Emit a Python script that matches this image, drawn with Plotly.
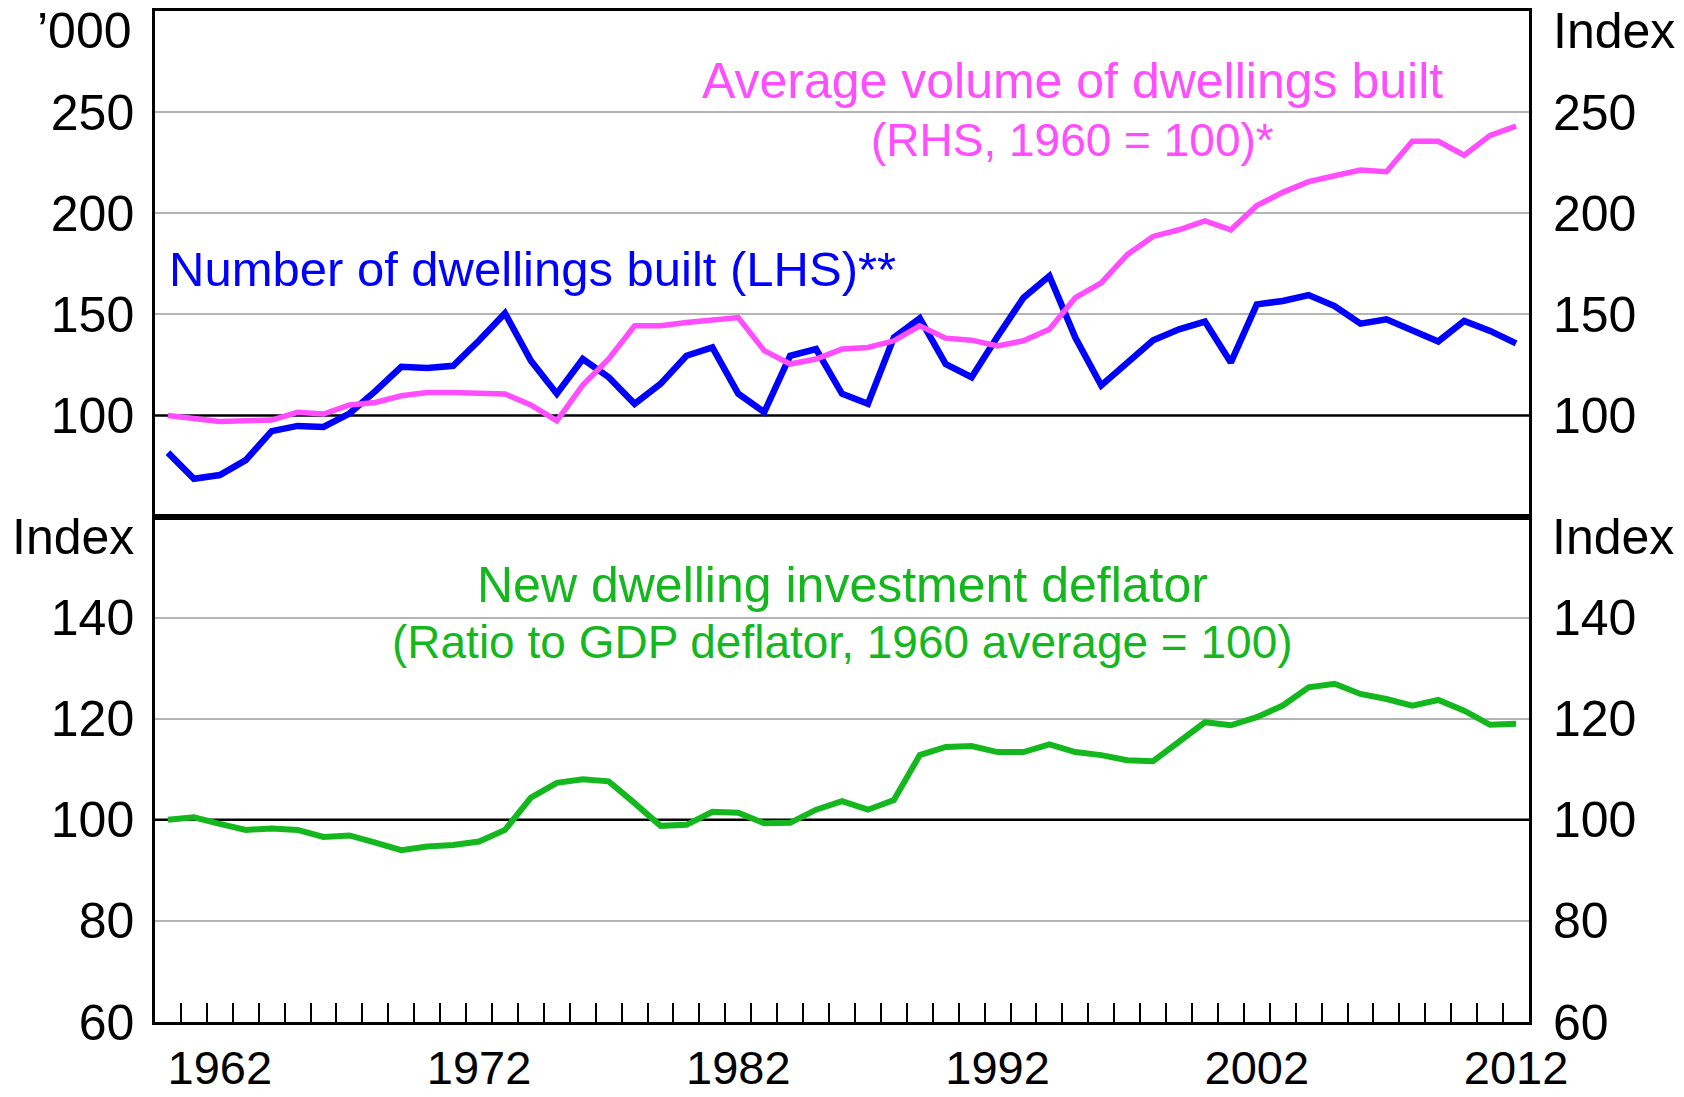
import plotly.graph_objects as go

years = list(range(1960, 2013))

# Number of dwellings built ('000, LHS)
dwellings_built = [81.6, 68.7, 70.5, 77.9, 92.2, 94.8, 94.3, 100.9, 112.0, 124.0,
                   123.4, 124.5, 137.0, 150.5, 127.0, 110.7, 127.9, 118.9, 105.7, 115.6,
                   129.5, 133.6, 110.7, 101.6, 129.5, 132.8, 110.7, 105.7, 138.5, 148.0,
                   125.4, 118.9, 139.0, 158.2, 168.9, 138.5, 114.8, 126.2, 137.2, 142.6,
                   146.4, 126.2, 154.9, 156.6, 159.5, 154.1, 145.4, 147.5, 141.8, 136.6,
                   146.7, 141.8, 135.6]

# Average volume of dwellings built (RHS, 1960 = 100)
avg_volume = [100.0, 98.7, 97.0, 97.4, 97.7, 101.5, 100.7, 105.2, 106.4, 109.7,
              111.3, 111.3, 111.0, 110.6, 105.2, 97.3, 115.0, 127.9, 144.3, 144.3,
              145.9, 147.0, 148.4, 132.0, 125.4, 127.9, 132.8, 133.6, 136.9, 144.3,
              138.2, 137.2, 134.4, 136.9, 142.6, 158.2, 165.6, 179.5, 188.5, 191.8,
              196.2, 191.8, 203.8, 210.3, 215.6, 218.5, 221.3, 220.5, 235.6, 235.6,
              228.7, 238.5, 243.1]

# New dwelling investment deflator (ratio to GDP deflator, 1960 average = 100)
deflator_ratio = [100.0, 100.5, 99.2, 98.0, 98.3, 98.0, 96.6, 96.9, 95.5, 94.0,
                  94.7, 95.0, 95.7, 98.0, 104.4, 107.3, 108.0, 107.6, 103.3, 98.8,
                  99.0, 101.6, 101.4, 99.3, 99.4, 102.0, 103.7, 102.0, 103.9, 112.8,
                  114.4, 114.6, 113.4, 113.4, 114.9, 113.4, 112.8, 111.8, 111.6, 115.4,
                  119.3, 118.7, 120.3, 122.6, 126.2, 126.9, 124.9, 123.9, 122.6, 123.7,
                  121.6, 118.8, 119.0]

year_labels = [1962, 1972, 1982, 1992, 2002, 2012]
top_ticks = [100, 150, 200, 250]
top_grid = [150, 200, 250]
top_range = [50, 300]
bottom_ticks = [60, 80, 100, 120, 140]
bottom_grid = [80, 120, 140]
bottom_range = [60, 160]
ref_level = 100

BLUE = "#0000FF"
PINK = "#FF4DFF"
GREEN = "#14B81E"
GRID = "#B4B4B4"
FONT = "Liberation Sans, Arial, sans-serif"
FS = 50
FS2 = 46

xr = [years[0] - 0.5, years[-1] + 0.5]
boundaries = [y + 0.5 for y in years[:-1]]

fig = go.Figure()
fig.add_trace(go.Scatter(x=years, y=dwellings_built, mode="lines",
                         line=dict(color=BLUE, width=6.5), xaxis="x", yaxis="y"))
fig.add_trace(go.Scatter(x=years, y=avg_volume, mode="lines",
                         line=dict(color=PINK, width=5.5), xaxis="x", yaxis="y2"))
fig.add_trace(go.Scatter(x=years, y=deflator_ratio, mode="lines",
                         line=dict(color=GREEN, width=6), xaxis="x2", yaxis="y3"))
# invisible trace to activate right axis of bottom panel
fig.add_trace(go.Scatter(x=[years[0]], y=[bottom_range[0]], mode="lines",
                         line=dict(width=0), xaxis="x2", yaxis="y4",
                         hoverinfo="skip", showlegend=False))

frame = dict(showline=True, linecolor="black", linewidth=2.5, mirror=True)

fig.update_layout(
    width=1684, height=1097,
    margin=dict(l=155, r=155, t=10.5, b=74.75),
    paper_bgcolor="white", plot_bgcolor="white",
    showlegend=False,
    font=dict(family=FONT, size=FS, color="black"),
    xaxis=dict(domain=[0, 1], anchor="y", range=xr, showticklabels=False,
               ticks="", showgrid=False, zeroline=False, automargin=False, **frame),
    xaxis2=dict(domain=[0, 1], anchor="y3", range=xr,
                tickmode="array", tickvals=year_labels,
                ticktext=[str(v) for v in year_labels], ticks="",
                tickfont=dict(size=47),
                ticklabelstandoff=3, automargin=False,
                minor=dict(tickmode="array", tickvals=boundaries, ticks="inside",
                           ticklen=19, tickwidth=2, tickcolor="black", showgrid=False),
                showgrid=False, zeroline=False, **frame),
    yaxis=dict(domain=[0.5, 1], anchor="x", range=top_range,
               tickmode="array", tickvals=top_ticks, ticks="",
               ticklabelstandoff=8, automargin=False,
               showgrid=False, zeroline=False,
               minor=dict(tickmode="array", tickvals=top_grid, ticks="",
                          showgrid=True, gridcolor=GRID, gridwidth=2),
               **frame),
    yaxis2=dict(overlaying="y", side="right", anchor="x", range=top_range,
                tickmode="array", tickvals=top_ticks, ticks="",
                ticklabelstandoff=23, automargin=False,
                showgrid=False, zeroline=False),
    yaxis3=dict(domain=[0, 0.5], anchor="x2", range=bottom_range,
                tickmode="array", tickvals=bottom_ticks, ticks="",
                ticklabelstandoff=8, automargin=False,
                showgrid=False, zeroline=False,
                minor=dict(tickmode="array", tickvals=bottom_grid, ticks="",
                           showgrid=True, gridcolor=GRID, gridwidth=2),
                **frame),
    yaxis4=dict(overlaying="y3", side="right", anchor="x2", range=bottom_range,
                tickmode="array", tickvals=bottom_ticks, ticks="",
                ticklabelstandoff=23, automargin=False,
                showgrid=False, zeroline=False),
)

# Black reference lines at 100
fig.add_shape(type="line", xref="x domain", x0=0, x1=1, yref="y",
              y0=ref_level, y1=ref_level, line=dict(color="black", width=2.5), layer="below")
fig.add_shape(type="line", xref="x2 domain", x0=0, x1=1, yref="y3",
              y0=ref_level, y1=ref_level, line=dict(color="black", width=2.5), layer="below")


def ann(text, x, y, color="black", xanchor="center", size=FS):
    fig.add_annotation(text=text, x=x, y=y, xref="paper", yref="paper",
                       xanchor=xanchor, yanchor="middle", showarrow=False,
                       font=dict(family=FONT, size=size, color=color))


ann("\u2019000", -0.0151, 0.9807, xanchor="right")
ann("Index", 1.0160, 0.9807, xanchor="left")
ann("Index", -0.0135, 0.4796, xanchor="right")
ann("Index", 1.0150, 0.4796, xanchor="left")
ann("Average volume of dwellings built", 0.668, 0.9308, PINK)
ann("(RHS, 1960 = 100)*", 0.668, 0.8724, PINK, size=FS2)
ann("Number of dwellings built (LHS)**", 0.2749, 0.745, BLUE, size=49)
ann("New dwelling investment deflator", 0.5, 0.4319, GREEN)
ann("(Ratio to GDP deflator, 1960 average = 100)", 0.5, 0.3755, GREEN, size=FS2)

fig.write_html("out.html",
               config={"displayModeBar": False},
               post_script="document.body.style.margin='0';document.body.style.overflow='hidden';")
